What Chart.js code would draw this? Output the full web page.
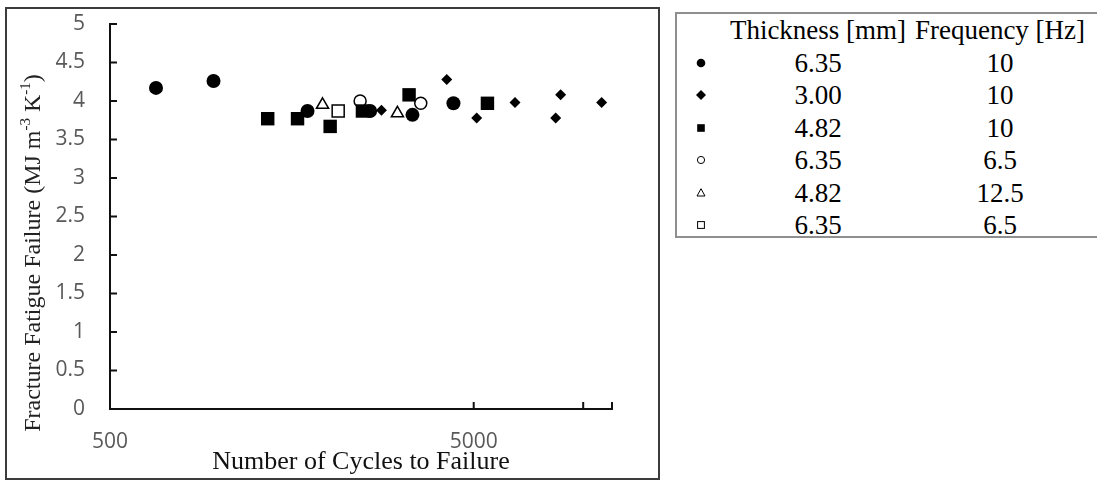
<!DOCTYPE html>
<html>
<head>
<meta charset="utf-8">
<title>Fracture fatigue failure</title>
<script src="https://cdn.jsdelivr.net/npm/chart.js@4.4.1/dist/chart.umd.min.js"></script>
<style>
  body { margin: 0; background: #fff; }
  #wrap { position: relative; width: 1097px; height: 483px; overflow: hidden; }
  #chart { position: absolute; left: 0; top: 0; }
  #key {
    position: absolute; left: 675px; top: 12px; width: 440px; height: 222px;
    border: 2px solid #8f8f8f;
    font-family: "Liberation Serif", "Times New Roman", serif; font-size: 27px; color: #000;
  }
  #key table { border-collapse: collapse; }
  #key td { height: 32.5px; line-height: 32.5px; padding: 0; text-align: center; white-space: nowrap; }
  #key svg { display: block; margin: 0 auto; }
</style>
</head>
<body>
<div id="wrap">
  <canvas id="chart" width="660" height="483"></canvas>
  <div id="key"><table id="keyTable"></table></div>
</div>
<script>
// specimen groups
const thickness = ['6.35', '3.00', '4.82', '6.35', '4.82', '6.35'];
const frequency = ['10', '10', '10', '6.5', '12.5', '6.5'];

// cycles to failure / fracture fatigue failure (MJ m-3 K-1) per group
const cycles1 = [669, 963, 1746, 2595, 3393, 4398];
const ffe1 = [4.17, 4.26, 3.87, 3.87, 3.82, 3.97];

const cycles2 = [2788, 4216, 5095, 6493, 8400, 8669, 11237];
const ffe2 = [3.88, 4.28, 3.78, 3.98, 3.78, 4.08, 3.98];

const cycles3 = [1357, 1639, 2015, 2472, 3321, 5454];
const ffe3 = [3.77, 3.77, 3.67, 3.87, 4.08, 3.97];

const cycles4 = [2436, 3576];
const ffe4 = [4.0, 3.97];

const cycles5 = [1920, 3085];
const ffe5 = [3.95, 3.84];

const cycles6 = [2120];
const ffe6 = [3.87];

const xTickValues = [500, 5000, 10000];
const xLabelValues = [500, 5000];

const xTitle = 'Number of Cycles to Failure';
const yTitleParts = [
  { text: 'Fracture Fatigue Failure (MJ m' },
  { text: '-3', sup: true },
  { text: ' K' },
  { text: '-1', sup: true },
  { text: ')' }
];

const cycles = [cycles1, cycles2, cycles3, cycles4, cycles5, cycles6];
const ffe = [ffe1, ffe2, ffe3, ffe4, ffe5, ffe6];

// marker look for each group
const markers = [
  { style: 'circle', r: 7, fill: true },
  { style: 'rectRot', r: 5.5, fill: true },
  { style: 'rect', r: 9.5, fill: true },
  { style: 'circle', r: 6, fill: false },
  { style: 'triangle', r: 7, fill: false },
  { style: 'rect', r: 8.5, fill: false }
];

const datasets = cycles.map((xs, i) => ({
  label: thickness[i] + ' mm, ' + frequency[i] + ' Hz',
  data: xs.map((x, j) => ({ x: x, y: ffe[i][j] })),
  pointStyle: markers[i].style,
  pointRadius: markers[i].r,
  pointBackgroundColor: markers[i].fill ? '#000' : '#fff',
  pointBorderColor: '#000',
  pointBorderWidth: markers[i].fill ? 0 : 1.5
}));

const AXIS_COLOR = '#111';
const TICK_LEN = 7;
const TICK_FONT = { family: '"Open Sans", sans-serif', size: 21 };

const framePlugin = {
  id: 'frame',
  beforeDraw(chart) {
    const ctx = chart.ctx;
    ctx.save();
    ctx.fillStyle = '#fff';
    ctx.fillRect(0, 0, chart.width, chart.height);
    ctx.strokeStyle = '#3c3c3c';
    ctx.lineWidth = 2;
    ctx.strokeRect(6, 8, 653, 471);
    ctx.restore();
  },
  afterDraw(chart) {
    const ctx = chart.ctx;
    const xs = chart.scales.x, ys = chart.scales.y;
    const area = chart.chartArea;
    ctx.save();
    ctx.strokeStyle = AXIS_COLOR;
    ctx.lineWidth = 2;
    ctx.beginPath();
    // tick marks point into the plot
    ys.ticks.forEach(t => {
      const py = ys.getPixelForValue(t.value);
      ctx.moveTo(area.left, py);
      ctx.lineTo(area.left + TICK_LEN, py);
    });
    xTickValues.concat([xs.max]).forEach(v => {
      if (v <= xs.min) return;
      const px = xs.getPixelForValue(v);
      ctx.moveTo(px, area.bottom);
      ctx.lineTo(px, area.bottom - TICK_LEN);
    });
    ctx.stroke();

    // vertical title with superscripts
    const base = '24px "Liberation Serif", "Times New Roman", serif';
    const small = '15px "Liberation Serif", "Times New Roman", serif';
    let total = 0;
    yTitleParts.forEach(p => {
      ctx.font = p.sup ? small : base;
      p.w = ctx.measureText(p.text).width;
      total += p.w;
    });
    ctx.translate(33, 253);
    ctx.rotate(-Math.PI / 2);
    ctx.fillStyle = '#222';
    ctx.textBaseline = 'middle';
    ctx.textAlign = 'left';
    let cx = -total / 2;
    yTitleParts.forEach(p => {
      ctx.font = p.sup ? small : base;
      ctx.fillText(p.text, cx, p.sup ? -7 : 1);
      cx += p.w;
    });
    ctx.restore();
  }
};

new Chart(document.getElementById('chart'), {
  type: 'scatter',
  data: { datasets: datasets },
  options: {
    responsive: false,
    animation: false,
    layout: { padding: { left: 0, top: 24, right: 48, bottom: 0 } },
    plugins: { legend: { display: false }, tooltip: { enabled: false } },
    scales: {
      x: {
        type: 'logarithmic',
        min: 500,
        max: 12000,
        afterFit: s => { s.height = 74; s.paddingLeft = 0; s.paddingRight = 0; },
        afterBuildTicks: s => { s.ticks = xTickValues.map(v => ({ value: v })); },
        grid: { display: false },
        border: { display: true, color: AXIS_COLOR, width: 2 },
        ticks: {
          autoSkip: false,
          maxRotation: 0,
          padding: 12,
          color: '#595959',
          font: TICK_FONT,
          callback: v => xLabelValues.includes(v) ? String(v) : ''
        },
        title: {
          display: true,
          text: xTitle,
          color: '#111',
          font: { family: '"Liberation Serif", "Times New Roman", serif', size: 26 },
          padding: { top: 0, bottom: 5 }
        }
      },
      y: {
        min: 0,
        max: 5,
        afterFit: s => { s.width = 110; s.paddingTop = 0; s.paddingBottom = 0; },
        grid: { display: false },
        border: { display: true, color: AXIS_COLOR, width: 2 },
        ticks: {
          stepSize: 0.5,
          padding: 17,
          color: '#595959',
          font: TICK_FONT,
          callback: v => String(+v.toFixed(1))
        }
      }
    }
  },
  plugins: [framePlugin]
});

// key table: header row, then one row per group
function markerSvg(m) {
  const s = 14, c = 7;
  let shape;
  const fill = m.fill ? '#000' : '#fff';
  const stroke = m.fill ? 'none' : '#000';
  if (m.style === 'circle') {
    shape = `<circle cx="${c}" cy="${c}" r="${m.fill ? 4.3 : 3.6}"/>`;
  } else if (m.style === 'rectRot') {
    shape = `<polygon points="${c - 5},${c} ${c},${c - 5} ${c + 5},${c} ${c},${c + 5}"/>`;
  } else if (m.style === 'rect') {
    const h = m.fill ? 3.8 : 3.4;
    shape = `<rect x="${c - h}" y="${c - h}" width="${2 * h}" height="${2 * h}"/>`;
  } else {
    shape = `<polygon points="${c},${c - 4.3} ${c + 4},${c + 3} ${c - 4},${c + 3}"/>`;
  }
  return `<svg width="${s}" height="${s}"><g fill="${fill}" stroke="${stroke}" stroke-width="1">${shape}</g></svg>`;
}

const rows = ['<tr><td style="width:48px"></td><td style="width:186px">Thickness [mm]</td><td style="width:178px">Frequency [Hz]</td></tr>'];
thickness.forEach((t, i) => {
  rows.push(`<tr><td>${markerSvg(markers[i])}</td><td>${t}</td><td>${frequency[i]}</td></tr>`);
});
document.getElementById('keyTable').innerHTML = rows.join('');
</script>
</body>
</html>
